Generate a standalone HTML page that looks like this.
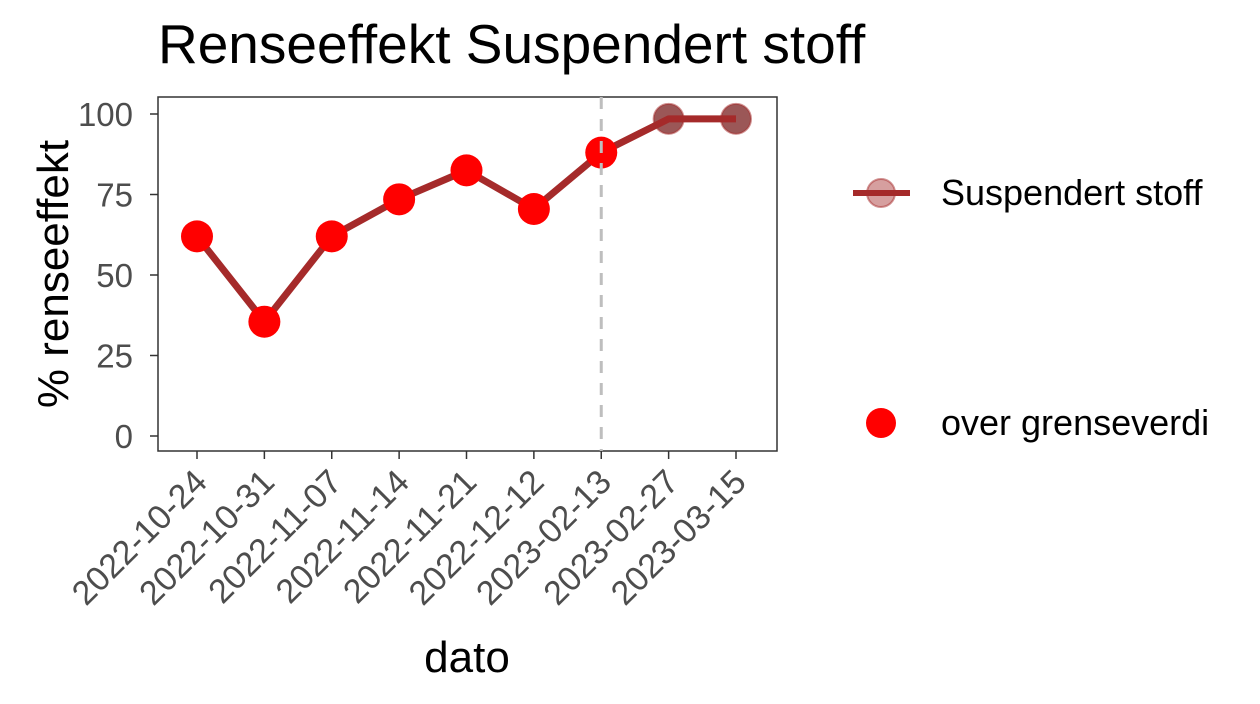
<!DOCTYPE html>
<html><head><meta charset="utf-8"><style>
body{margin:0;background:#fff}
svg{display:block;font-family:"Liberation Sans",Arial,sans-serif}
</style></head><body>
<svg id="chart" width="1260" height="704" viewBox="0 0 1260 704">
<text x="158" y="63" font-size="55" fill="#000">Renseeffekt Suspendert stoff</text>
<rect x="158" y="97" width="619" height="354" fill="#fff" stroke="#333" stroke-width="1.5"/>
<g id="yaxis"></g>
<g id="xaxis"></g>
<g id="marks"></g>
<text transform="translate(68,274) rotate(-90)" text-anchor="middle" font-size="44">% renseeffekt</text>
<text x="467" y="672" text-anchor="middle" font-size="44">dato</text>
<g>
<line x1="853" y1="193" x2="910" y2="193" stroke="#a52a2a" stroke-width="6"/>
<circle cx="881" cy="193" r="14" fill="#a52a2a" fill-opacity="0.45" stroke="#a52a2a" stroke-opacity="0.5" stroke-width="2"/>
<text x="941" y="205" font-size="36">Suspendert stoff</text>
</g>
<g>
<circle cx="881" cy="423" r="15" fill="#ff0000"/>
<text x="941" y="435" font-size="36">over grenseverdi</text>
</g>
</svg>
<script>
const categories=["2022-10-24","2022-10-31","2022-11-07","2022-11-14","2022-11-21","2022-12-12","2023-02-13","2023-02-27","2023-03-15"];
const values=[62,35.5,62,73.5,82.5,70.5,88,98.5,98.5];
const overLimit=[true,true,true,true,true,true,true,false,false];
const yTicks=[0,25,50,75,100];
const markerDate="2023-02-13";
const NS="http://www.w3.org/2000/svg";
const x=i=>197+i*67.375;
const y=v=>436-v*3.22;
function mk(tag,attrs,parent){const e=document.createElementNS(NS,tag);for(const k in attrs)e.setAttribute(k,attrs[k]);parent.appendChild(e);return e;}
const ya=document.getElementById('yaxis'),xa=document.getElementById('xaxis'),m=document.getElementById('marks');
yTicks.forEach(t=>{
 const l=mk('line',{x1:150,x2:158,y1:y(t),y2:y(t),stroke:'#333','stroke-width':1.5},ya);
 
 
 const tx=mk('text',{x:133,y:y(t)+12,'text-anchor':'end','font-size':33,fill:'#4d4d4d'},ya);
 tx.textContent=t;
 
 
});
categories.forEach((c,i)=>{
 const l=mk('line',{x1:x(i),x2:x(i),y1:451,y2:459,stroke:'#333','stroke-width':1.5},xa);
 
 
 const tx=mk('text',{transform:`translate(${x(i)+12},${484}) rotate(-45)`,'text-anchor':'end','font-size':34,fill:'#4d4d4d'},xa);
 tx.textContent=c;
 
 
});
values.forEach((v,i)=>{ if(!overLimit[i]){
 const c=mk('circle',{cx:x(i),cy:y(v),r:15,fill:'#7a1f1f','fill-opacity':0.75,stroke:'#a52a2a','stroke-opacity':0.5,'stroke-width':2},m);
 
 
}});
const pl=mk('polyline',{points:values.map((v,i)=>x(i)+','+y(v)).join(' '),fill:'none',stroke:'#a52a2a','stroke-width':7,'stroke-linejoin':'round'},m);


values.forEach((v,i)=>{ if(overLimit[i]){
 const c=mk('circle',{cx:x(i),cy:y(v),r:16,fill:'#ff0000'},m);
 
 
}});
const mi=categories.indexOf(markerDate);
const dl=mk('line',{x1:x(mi),x2:x(mi),y1:97,y2:451,stroke:'#bebebe','stroke-width':3,'stroke-dasharray':'12 10'},m);


</script>
</body></html>
